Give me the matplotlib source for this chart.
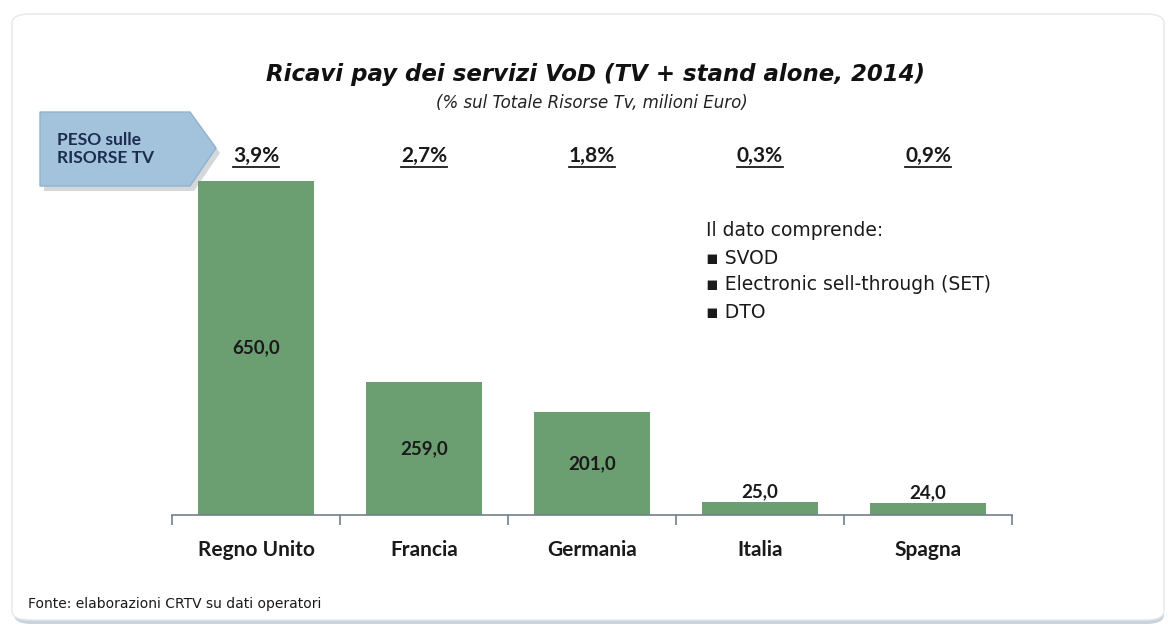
import matplotlib.pyplot as plt
from matplotlib.patches import Polygon, FancyBboxPatch
from matplotlib.lines import Line2D
from matplotlib.transforms import blended_transform_factory

# ── Data ────────────────────────────────────────────────────────────────────
countries = ["Regno Unito", "Francia", "Germania", "Italia", "Spagna"]
revenues = [650.0, 259.0, 201.0, 25.0, 24.0]
shares = ["3,9%", "2,7%", "1,8%", "0,3%", "0,9%"]
notes = ["Il dato comprende:", "\u25aa SVOD",
         "\u25aa Electronic sell-through (SET)", "\u25aa DTO"]

BAR = "#6b9e70"
FONT = ["Lato", "DejaVu Sans"]      # Calibri-like labels
WIDE = ["DejaVu Sans"]              # Century-Gothic-like texts

fig = plt.figure(figsize=(11.68, 6.3), dpi=100)
fig.patch.set_facecolor("white")
W, H = 1168, 630


def fx(px):
    return px / W


def fy(py):
    return 1 - py / H


# slide frame with soft shadow at the bottom
fig.patches.append(FancyBboxPatch((fx(14), fy(624)), fx(1150), fy(18) - fy(624),
                                  boxstyle="round,pad=0,rounding_size=0.015",
                                  transform=fig.transFigure, facecolor="#c9d3dc",
                                  edgecolor="none", zorder=-3))
fig.patches.append(FancyBboxPatch((fx(12), fy(620)), fx(1152), fy(14) - fy(620),
                                  boxstyle="round,pad=0,rounding_size=0.015",
                                  transform=fig.transFigure, facecolor="white",
                                  edgecolor="#e4e8ec", linewidth=1, zorder=-2))

ax = fig.add_axes([fx(172), fy(515), fx(840), (515 - 100) / H])
ax.set_zorder(5)
ax.set_facecolor("none")
x = range(len(countries))
bars = ax.bar(x, revenues, width=0.69, color=BAR, zorder=2)
ax.set_xlim(-0.5, len(countries) - 0.5)
ax.set_ylim(0, 650 * 415 / 334)

for s in ("top", "right", "left"):
    ax.spines[s].set_visible(False)
ax.spines["bottom"].set_color("#6f7f8f")
ax.spines["bottom"].set_linewidth(1.2)
ax.set_yticks([])
ax.set_xticks([i - 0.5 for i in range(len(countries) + 1)])
ax.set_xticklabels([])
ax.tick_params(axis="x", length=7, color="#6f7f8f", width=1.2, direction="out")
lab_trans = blended_transform_factory(ax.transData, fig.transFigure)
for i, name in enumerate(countries):
    ax.text(i, fy(550), name, transform=lab_trans,
            ha="center", va="center", fontsize=15, fontweight="bold",
            family=FONT, color="#1a1a1a")

# value labels
for b, v in zip(bars, revenues):
    lbl = f"{v:.1f}".replace(".", ",")
    cx = b.get_x() + b.get_width() / 2
    if v > 100:
        ax.text(cx, v / 2, lbl, ha="center", va="center", fontsize=13.5,
                fontweight="bold", family=FONT, color="#1a1a1a", zorder=3)
    else:
        ax.text(cx, v + 3, lbl, ha="center", va="bottom", fontsize=13.5,
                fontweight="bold", family=FONT, color="#1a1a1a", zorder=3)

# share labels (underlined)
share_txt = []
for i, s in enumerate(shares):
    share_txt.append(ax.text(i, fy(156), s, transform=lab_trans, ha="center",
                             va="center", fontsize=15, fontweight="bold",
                             family=FONT, color="#1a1a1a"))

# arrow box "PESO sulle RISORSE TV"
pts = [(40, 112), (190, 112), (216, 148), (190, 186), (40, 186)]
shadow = Polygon([(fx(px + 4), fy(py + 5)) for px, py in pts], closed=True,
                 transform=fig.transFigure, facecolor="#b8bec4", edgecolor="none",
                 alpha=0.6, zorder=1)
arrow = Polygon([(fx(px), fy(py)) for px, py in pts], closed=True,
                transform=fig.transFigure, facecolor="#a3c3dc", edgecolor="#8fb2cf",
                zorder=2)
fig.patches.extend([shadow, arrow])
fig.text(fx(57), fy(149), "PESO sulle\nRISORSE TV", ha="left", va="center",
         fontsize=12.5, fontweight="bold", family=FONT, color="#1c2d4f",
         linespacing=1.2, zorder=3)

# titles
fig.text(fx(595), fy(75), "Ricavi pay dei servizi VoD (TV + stand alone, 2014)",
         ha="center", va="center", fontsize=16.5, fontweight="bold",
         style="italic", family=WIDE, color="#111111")
fig.text(fx(592), fy(103), "(% sul Totale Risorse Tv, milioni Euro)",
         ha="center", va="center", fontsize=12, style="italic",
         family=WIDE, color="#222222")

# notes
for k, line in enumerate(notes):
    fig.text(fx(706), fy(231 + 27 * k), line, ha="left", va="center",
             fontsize=13.5, family=WIDE, color="#1a1a1a", zorder=6)

fig.text(fx(28), fy(604), "Fonte: elaborazioni CRTV su dati operatori",
         ha="left", va="center", fontsize=10, family=WIDE, color="#1a1a1a")

# underline the share labels
fig.canvas.draw()
r = fig.canvas.get_renderer()
inv = fig.transFigure.inverted()
for t in share_txt:
    bb = t.get_window_extent(renderer=r)
    (x0, y0), (x1, _) = inv.transform([(bb.x0, bb.y0 - 1), (bb.x1, bb.y0)])
    fig.add_artist(Line2D([x0, x1], [y0, y0], transform=fig.transFigure,
                          color="#1a1a1a", linewidth=1.3, zorder=6))

fig.savefig("out.png", dpi=100, facecolor="white")
